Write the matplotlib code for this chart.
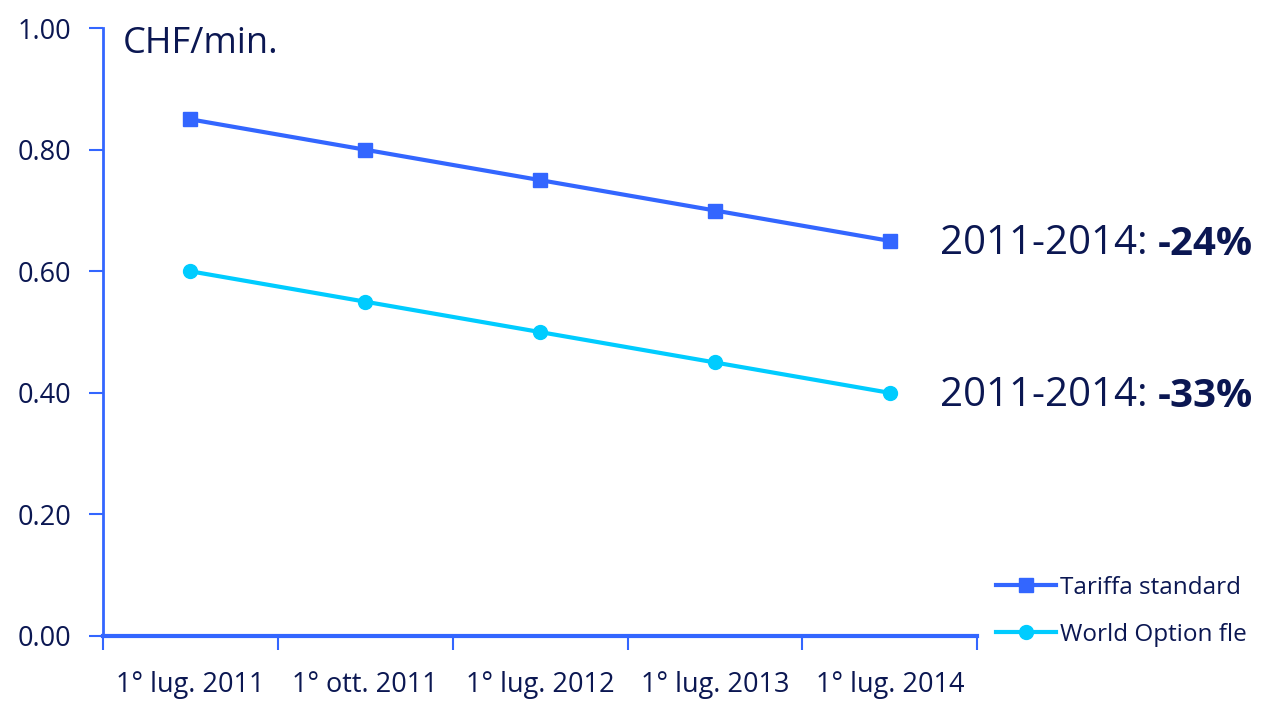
import matplotlib.pyplot as plt

plt.rcParams['font.family'] = ['Open Sans', 'DejaVu Sans']

# dati
dates = ['1° lug. 2011', '1° ott. 2011', '1° lug. 2012', '1° lug. 2013', '1° lug. 2014']
tariffa_standard = [0.85, 0.80, 0.75, 0.70, 0.65]
world_option = [0.60, 0.55, 0.50, 0.45, 0.40]
labels = ['Tariffa standard', 'World Option fle']
changes = ['-24%', '-33%']

blue = '#3366FF'
cyan = '#00CCFF'
navy = '#0B1752'

fig = plt.figure(figsize=(12.61, 7.04), dpi=100)
ax = fig.add_axes([0.0817, 0.0966, 0.6933, 0.8634])

x = list(range(len(dates)))
ax.plot(x, tariffa_standard, color=blue, lw=3, marker='s', ms=10, label=labels[0])
ax.plot(x, world_option, color=cyan, lw=3, marker='o', ms=10, label=labels[1])

ax.set_xlim(-0.5, len(dates) - 0.5)
ax.set_ylim(0, 1.0)
ax.set_yticks([0, 0.2, 0.4, 0.6, 0.8, 1.0])
ax.set_yticklabels(['%.2f' % v for v in [0, 0.2, 0.4, 0.6, 0.8, 1.0]])
ax.set_xticks([i - 0.5 for i in range(len(dates) + 1)], minor=False)
ax.set_xticklabels([''] * (len(dates) + 1))
ax.set_xticks(x, minor=True)
ax.set_xticklabels(dates, minor=True)
ax.tick_params(axis='x', which='minor', length=0, pad=25, labelsize=19.5, labelcolor=navy)
ax.tick_params(axis='x', which='major', length=10, width=1.5, color=blue)
ax.tick_params(axis='y', length=10, width=1.5, color=blue, pad=13, labelsize=19.5, labelcolor=navy)

for s in ['top', 'right']:
    ax.spines[s].set_visible(False)
ax.spines['left'].set_color(blue)
ax.spines['bottom'].set_color(blue)
ax.spines['left'].set_linewidth(2)
ax.spines['bottom'].set_linewidth(3)

fig.text(0.097, 0.937, 'CHF/min.', fontsize=26, color=navy, va='center')

# etichette variazione
for yv, ch in zip([tariffa_standard[-1], world_option[-1]], changes):
    t1 = ax.annotate('2011-2014: ', xy=(4, yv), xytext=(36, -2), textcoords='offset points',
                     fontsize=29, color=navy, va='center', annotation_clip=False)
    ax.annotate(ch, xy=(1, 0), xycoords=t1, fontsize=29, color=navy,
                fontweight='bold', va='bottom', annotation_clip=False)

fig.legend(loc='lower right', bbox_to_anchor=(1.006, 0.05), frameon=False,
           fontsize=17.5, labelcolor=navy, handlelength=2.5, handletextpad=0.15,
           labelspacing=0.95)

fig.savefig('out.png', dpi=100)
